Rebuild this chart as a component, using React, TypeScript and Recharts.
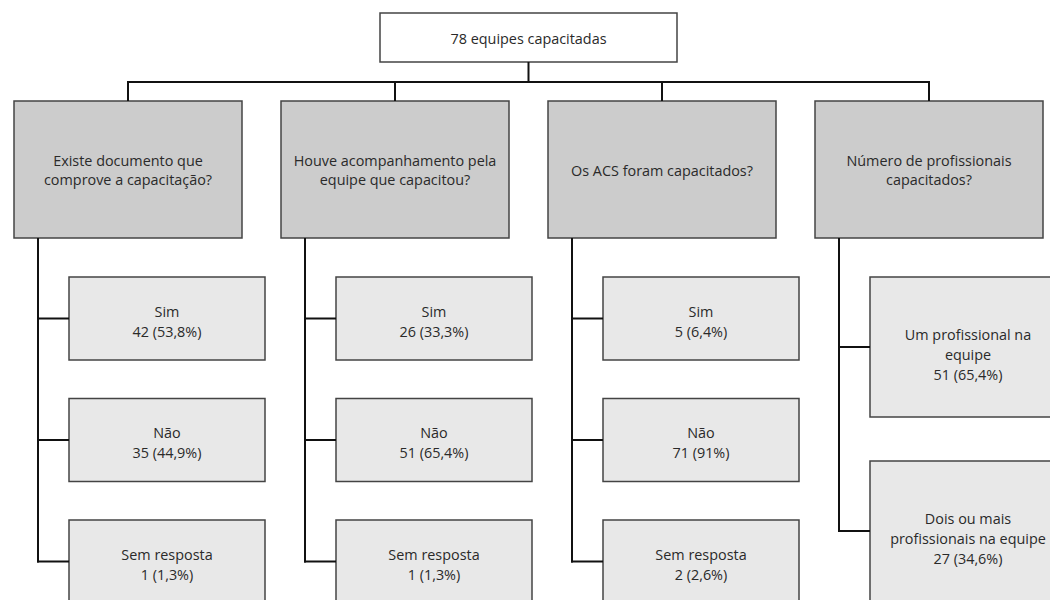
import React from 'react';
import {
  ComposedChart,
  XAxis,
  YAxis,
  Scatter,
  ReferenceArea,
  ReferenceLine,
} from 'recharts';

// content of the tree
const rootLabel = ['78 equipes capacitadas'];

const questions = [
  ['Existe documento que', 'comprove a capacitação?'],
  ['Houve acompanhamento pela', 'equipe que capacitou?'],
  ['Os ACS foram capacitados?'],
  ['Número de profissionais', 'capacitados?'],
];

const answerLabels = [
  [['Sim'], ['Não'], ['Sem resposta']],
  [['Sim'], ['Não'], ['Sem resposta']],
  [['Sim'], ['Não'], ['Sem resposta']],
  [['Um profissional na', 'equipe'], ['Dois ou mais', 'profissionais na equipe']],
];

const answerCounts = [
  [42, 35, 1],
  [26, 51, 1],
  [5, 71, 2],
  [51, 27],
];

const answerShares = [
  ['53,8%', '44,9%', '1,3%'],
  ['33,3%', '65,4%', '1,3%'],
  ['6,4%', '91%', '2,6%'],
  ['65,4%', '34,6%'],
];

// layout, in the chart's own coordinate units
const W = 1050;
const H = 600;
const ROOT = { x1: 380, x2: 677, y1: 13, y2: 62 };
const BUS_Y = 82;
const COL_X0 = 14;
const COL_STEP = 267;
const COL_W = 228;
const Q_Y1 = 101;
const Q_Y2 = 238;
const STEM_DX = 24;
const CHILD_DX = 55;
const CHILD_W = 196;
const rowLayout: Record<number, { top: number; step: number; h: number; dy: number }> = {
  3: { top: 277, step: 121.5, h: 83, dy: 2 },
  2: { top: 277, step: 184, h: 140, dy: 7 },
};

const FONT = '"Open Sans", sans-serif';
const FONT_SIZE = 14.4;
const LINE = '#111';

function BoxText(props: any) {
  const { viewBox, lines, lineH = 18, dy = 0 } = props;
  if (!viewBox) return null;
  const cx = viewBox.x + viewBox.width / 2;
  const cy = viewBox.y + viewBox.height / 2 + dy;
  const start = cy - ((lines.length - 1) * lineH) / 2;
  return (
    <text
      textAnchor="middle"
      dominantBaseline="central"
      fontFamily={FONT}
      fontSize={FONT_SIZE}
      fill="#2a2a2a"
    >
      {lines.map((l: string, i: number) => (
        <tspan key={i} x={cx} y={start + i * lineH}>
          {l}
        </tspan>
      ))}
    </text>
  );
}

function App() {
  const colLeft = (i: number) => COL_X0 + i * COL_STEP;
  const colMid = (i: number) => colLeft(i) + COL_W / 2;
  const rootMid = (ROOT.x1 + ROOT.x2) / 2;

  const answerBoxes = answerLabels.flatMap((col, ci) => {
    const lay = rowLayout[col.length];
    return col.map((lbl, ri) => {
      const top = lay.top + ri * lay.step;
      return {
        key: `a-${ci}-${ri}`,
        ci,
        x1: colLeft(ci) + CHILD_DX,
        x2: colLeft(ci) + CHILD_DX + CHILD_W,
        y1: top,
        y2: top + lay.h,
        mid: top + lay.h / 2,
        dy: lay.dy,
        lines: [...lbl, `${answerCounts[ci][ri]} (${answerShares[ci][ri]})`],
      };
    });
  });

  const anchors = [
    { x: rootMid, y: (ROOT.y1 + ROOT.y2) / 2 },
    ...questions.map((_, i) => ({ x: colMid(i), y: (Q_Y1 + Q_Y2) / 2 })),
  ];

  return (
    <div style={{ position: 'absolute', left: 0, top: 0, background: '#fff' }}>
      <ComposedChart width={W} height={H} margin={{ top: 0, right: 0, bottom: 0, left: 0 }}>
        <XAxis type="number" dataKey="x" domain={[0, W]} hide allowDataOverflow />
        <YAxis type="number" dataKey="y" domain={[0, H]} reversed hide allowDataOverflow />
        <Scatter data={anchors} shape={() => <g />} isAnimationActive={false} />

        {/* connectors from the root */}
        <ReferenceLine
          segment={[{ x: rootMid, y: ROOT.y2 }, { x: rootMid, y: BUS_Y }]}
          stroke={LINE}
          strokeWidth={2}
          ifOverflow="visible"
        />
        <ReferenceLine
          segment={[{ x: colMid(0) - 1, y: BUS_Y }, { x: colMid(questions.length - 1) + 1, y: BUS_Y }]}
          stroke={LINE}
          strokeWidth={2}
          ifOverflow="visible"
        />
        {questions.map((_, i) => (
          <ReferenceLine
            key={`drop-${i}`}
            segment={[{ x: colMid(i), y: BUS_Y }, { x: colMid(i), y: Q_Y1 }]}
            stroke={LINE}
            strokeWidth={2}
            ifOverflow="visible"
          />
        ))}

        {/* stems down each column */}
        {answerLabels.map((col, ci) => {
          const lay = rowLayout[col.length];
          const lastMid = lay.top + (col.length - 1) * lay.step + lay.h / 2;
          return (
            <ReferenceLine
              key={`stem-${ci}`}
              segment={[
                { x: colLeft(ci) + STEM_DX, y: Q_Y2 },
                { x: colLeft(ci) + STEM_DX, y: lastMid + 1 },
              ]}
              stroke={LINE}
              strokeWidth={2}
              ifOverflow="visible"
            />
          );
        })}
        {answerBoxes.map((b) => (
          <ReferenceLine
            key={`tick-${b.key}`}
            segment={[
              { x: colLeft(b.ci) + STEM_DX - 1, y: b.mid },
              { x: b.x1, y: b.mid },
            ]}
            stroke={LINE}
            strokeWidth={2}
            ifOverflow="visible"
          />
        ))}

        {/* root box */}
        <ReferenceArea
          x1={ROOT.x1}
          x2={ROOT.x2}
          y1={ROOT.y1}
          y2={ROOT.y2}
          fill="#ffffff"
          fillOpacity={1}
          stroke="#444"
          strokeWidth={1.5}
          ifOverflow="visible"
          label={<BoxText lines={rootLabel} />}
        />

        {/* question boxes */}
        {questions.map((q, i) => (
          <ReferenceArea
            key={`q-${i}`}
            x1={colLeft(i)}
            x2={colLeft(i) + COL_W}
            y1={Q_Y1}
            y2={Q_Y2}
            fill="#cccccc"
            fillOpacity={1}
            stroke="#444"
            strokeWidth={1.5}
            ifOverflow="visible"
            label={<BoxText lines={q} lineH={18.5} />}
          />
        ))}

        {/* answer boxes */}
        {answerBoxes.map((b) => (
          <ReferenceArea
            key={b.key}
            x1={b.x1}
            x2={b.x2}
            y1={b.y1}
            y2={b.y2}
            fill="#e8e8e8"
            fillOpacity={1}
            stroke="#444"
            strokeWidth={1.5}
            ifOverflow="visible"
            label={<BoxText lines={b.lines} lineH={20} dy={b.dy} />}
          />
        ))}
      </ComposedChart>
    </div>
  );
}

export default App;
